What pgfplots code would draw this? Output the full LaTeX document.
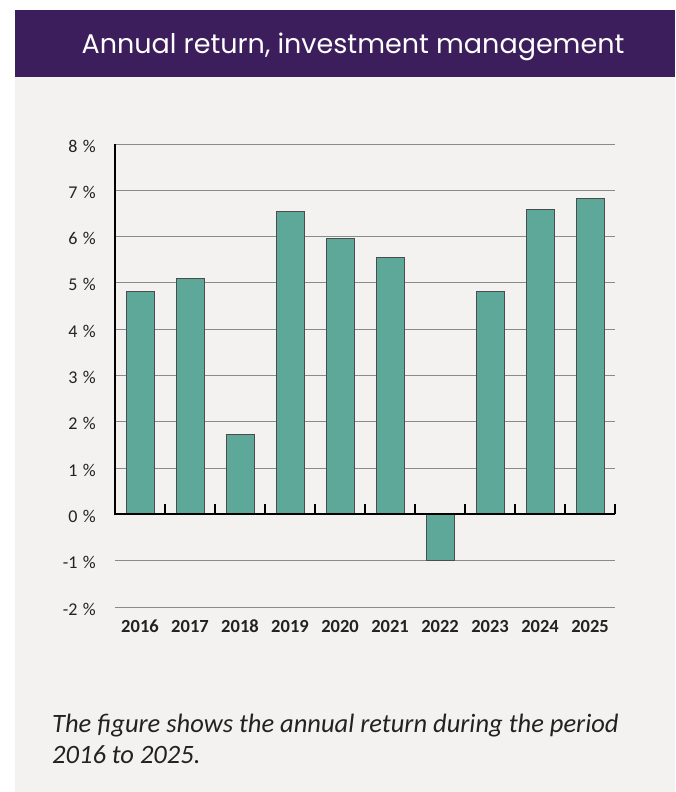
\documentclass[border=0pt]{standalone}
\usepackage{pgfplots}
\pgfplotsset{compat=1.18}
\usepackage{fontspec}
\setmainfont{Carlito}
\newfontfamily\poppins{Poppins}
\definecolor{hdr}{HTML}{3D1E5C}
\definecolor{panel}{HTML}{F3F2F0}
\definecolor{barc}{HTML}{5EA899}
\definecolor{gridc}{HTML}{8A8A8A}
\definecolor{lbl}{HTML}{222222}
\newcommand{\pc}{\hspace{0.3em}\%}
\begin{document}
\begin{tikzpicture}[x=1pt,y=1pt]
\fill[white] (0,0) rectangle (675,792);
\fill[panel] (15,0) rectangle (675,715);
\fill[hdr] (15,715) rectangle (675,782);
\node[anchor=base, text=white, font=\poppins\fontsize{27}{30}\selectfont, inner sep=0pt] at (353,738) {Annual return, investment management};
\begin{axis}[
  at={(115pt,185pt)}, anchor=south west, scale only axis,
  width=500pt, height=463pt,
  xmin=-0.5, xmax=9.5, ymin=-2, ymax=8,
  clip=false,
  axis line style={draw=none},
  major tick length=0pt,
  ymajorgrids, grid style={gridc, line width=0.9pt},
  xtick={0,...,9},
  xticklabels={2016,2017,2018,2019,2020,2021,2022,2023,2024,2025},
  ytick={-2,-1,0,1,2,3,4,5,6,7,8},
  yticklabels={-2\pc,-1\pc,0\pc,1\pc,2\pc,3\pc,4\pc,5\pc,6\pc,7\pc,8\pc},
  xticklabel style={font=\bfseries\fontsize{18.5}{20}\selectfont, text=lbl, inner sep=0pt, anchor=north, yshift=-13pt},
  yticklabel style={font=\fontsize{18}{20}\selectfont, text=lbl, inner sep=0pt, anchor=east, xshift=-19pt, yshift=-2pt},
  ybar, bar width=28pt, bar shift=0pt,
]
\addplot[fill=barc, draw=black!70, line width=0.9pt] coordinates {
  (0,4.82) (1,5.10) (2,1.73) (3,6.54) (4,5.96)
  (5,5.55) (6,-1.00) (7,4.82) (8,6.59) (9,6.83)};
\draw[black, line width=2pt] (axis cs:-0.5,0) -- (axis cs:9.5,0);
\draw[black, line width=2pt] (axis cs:-0.5,-0.02) -- (axis cs:-0.5,8);
\pgfplotsinvokeforeach{0.5,1.5,2.5,3.5,4.5,5.5,6.5,7.5,8.5,9.5}{
  \draw[black, line width=1.6pt] (axis cs:#1,0) -- ++(0pt,10pt);
}
\end{axis}
\node[anchor=base west, font=\itshape\fontsize{26.5}{30}\selectfont, text=lbl, inner sep=0pt] at (52,59) {The figure shows the annual return during the period};
\node[anchor=base west, font=\itshape\fontsize{26.5}{30}\selectfont, text=lbl, inner sep=0pt] at (52,28) {2016 to 2025.};
\end{tikzpicture}
\end{document}
